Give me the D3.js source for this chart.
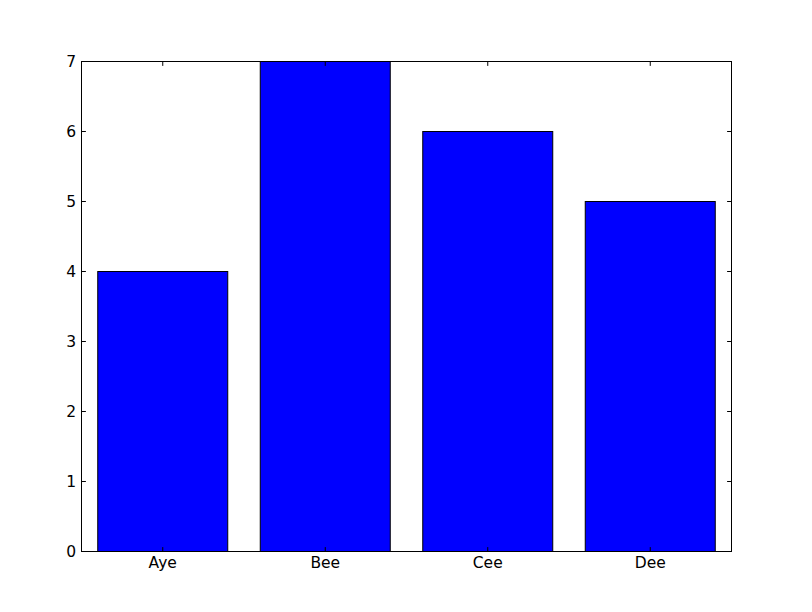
<!DOCTYPE html>
<html><head><meta charset="utf-8">
<script src="https://cdn.jsdelivr.net/npm/d3@7"></script>
<style>body{margin:0;background:#fff;}svg{display:block;}</style>
</head><body>
<script>
const categories = ["Aye", "Bee", "Cee", "Dee"];
const values = [4, 7, 6, 5];
const yTicks = [0, 1, 2, 3, 4, 5, 6, 7];

(function () {
const W = 812, H = 612;
const pL = 81.5, pR = 731.5, pT = 61.5, pB = 551.5;
const svg = d3.select("body").append("svg").attr("width", W).attr("height", H);
svg.append("rect").attr("width", W).attr("height", H).attr("fill", "#fff");

const x = d3.scaleLinear().domain([0, categories.length]).range([pL, pR]);
const y = d3.scaleLinear().domain([0, 7]).range([pB, pT]);

svg.append("g").selectAll("rect").data(values).join("rect")
  .attr("x", (d, i) => x(i + 0.1))
  .attr("width", (d, i) => x(i + 0.9) - x(i + 0.1))
  .attr("y", d => y(d))
  .attr("height", d => y(0) - y(d))
  .attr("fill", "#0000ff").attr("stroke", "#000").attr("stroke-width", 1);

const font = "DejaVu Sans";
const fs = 15.5;
const tl = 4.4;
const g = svg.append("g");
yTicks.forEach(t => {
  g.append("line").attr("x1", pL).attr("x2", pL + tl).attr("y1", y(t)).attr("y2", y(t)).attr("stroke", "#000");
  g.append("line").attr("x1", pR).attr("x2", pR - tl).attr("y1", y(t)).attr("y2", y(t)).attr("stroke", "#000");
  g.append("text").attr("x", pL - 5.5).attr("y", y(t) + 5.6)
    .attr("text-anchor", "end").attr("font-family", font).attr("font-size", fs).text(t);
});
categories.forEach((c, i) => {
  const cx = x(i + 0.5);
  g.append("line").attr("x1", cx).attr("x2", cx).attr("y1", pB).attr("y2", pB - tl).attr("stroke", "#000");
  g.append("line").attr("x1", cx).attr("x2", cx).attr("y1", pT).attr("y2", pT + tl).attr("stroke", "#000");
  g.append("text").attr("x", cx).attr("y", pB + 16)
    .attr("text-anchor", "middle").attr("font-family", font).attr("font-size", fs).text(c);
});
svg.append("rect").attr("x", pL).attr("y", pT).attr("width", pR - pL).attr("height", pB - pT)
  .attr("fill", "none").attr("stroke", "#000").attr("stroke-width", 1);
})();
</script>
</body></html>
